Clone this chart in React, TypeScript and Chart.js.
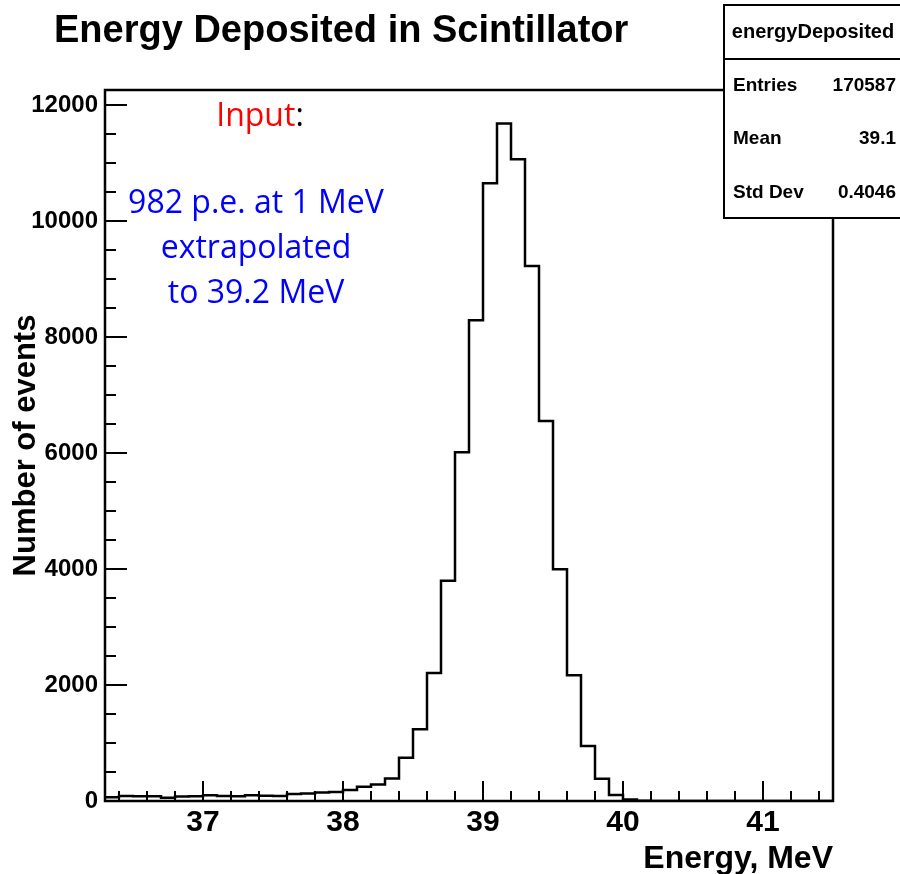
import React, { useEffect, useRef } from 'react';
import { Chart, registerables } from 'chart.js';

Chart.register(...registerables);

// ---- data ----
const binEdges = [
  36.3, 36.4, 36.5, 36.6, 36.7, 36.8, 36.9, 37.0, 37.1, 37.2,
  37.3, 37.4, 37.5, 37.6, 37.7, 37.8, 37.9, 38.0, 38.1, 38.2,
  38.3, 38.4, 38.5, 38.6, 38.7, 38.8, 38.9, 39.0, 39.1, 39.2,
  39.3, 39.4, 39.5, 39.6, 39.7, 39.8, 39.9, 40.0, 40.1, 40.2,
  40.3, 40.4, 40.5, 40.6, 40.7, 40.8, 40.9, 41.0, 41.1, 41.2,
  41.3, 41.4, 41.5,
];
const binCounts = [
  64, 86, 80, 80, 55, 78, 80, 98, 86, 80,
  100, 90, 88, 120, 128, 145, 155, 190, 247, 285,
  390, 745, 1236, 2207, 3798, 6012, 8288, 10650, 11684, 11064,
  9224, 6552, 3995, 2167, 948, 384, 103, 25, 5, 0,
  0, 0, 0, 0, 0, 0, 0, 0, 0, 0,
  0, 0,
];
const xMajorTicks = [37, 38, 39, 40, 41];
const xMinorTicks = [
  36.4, 36.6, 36.8, 37.2, 37.4, 37.6, 37.8, 38.2, 38.4, 38.6, 38.8,
  39.2, 39.4, 39.6, 39.8, 40.2, 40.4, 40.6, 40.8, 41.2, 41.4,
];
const yMajorTicks = [0, 2000, 4000, 6000, 8000, 10000, 12000];
const yMinorTicks = [
  500, 1000, 1500, 2500, 3000, 3500, 4500, 5000, 5500, 6500, 7000, 7500,
  8500, 9000, 9500, 10500, 11000, 11500,
];
const xRange = [36.3, 41.5];
const yRange = [0, 12260];

const chartTitle = 'Energy Deposited in Scintillator';
const xAxisTitle = 'Energy, MeV';
const yAxisTitle = 'Number of events';
const statsName = 'energyDeposited';
const statsLabels = ['Entries', 'Mean', 'Std Dev'];
const statsValues = ['170587', '39.1', '0.4046'];
const noteHead = 'Input';
const noteLines = ['982 p.e. at 1 MeV', 'extrapolated', 'to 39.2 MeV'];

const SANS = '"Liberation Sans", Arial, Helvetica, sans-serif';
const NOTE = '"Open Sans", "Noto Sans", sans-serif';

const decorPlugin = {
  id: 'rootDecor',
  afterDraw(chart: any) {
    const ctx = chart.ctx as CanvasRenderingContext2D;
    const xs = chart.scales.x;
    const ys = chart.scales.y;
    const { left, right, top, bottom } = chart.chartArea;
    ctx.save();
    ctx.strokeStyle = '#000';
    ctx.lineWidth = 2;
    ctx.lineCap = 'butt';
    // ticks
    ctx.beginPath();
    xMajorTicks.forEach((v) => {
      const p = Math.round(xs.getPixelForValue(v));
      ctx.moveTo(p, bottom);
      ctx.lineTo(p, bottom - 20);
    });
    xMinorTicks.forEach((v) => {
      const p = Math.round(xs.getPixelForValue(v));
      ctx.moveTo(p, bottom);
      ctx.lineTo(p, bottom - 10);
    });
    yMajorTicks.forEach((v) => {
      const p = Math.round(ys.getPixelForValue(v));
      ctx.moveTo(left, p);
      ctx.lineTo(left + 22, p);
    });
    yMinorTicks.forEach((v) => {
      const p = Math.round(ys.getPixelForValue(v));
      ctx.moveTo(left, p);
      ctx.lineTo(left + 11, p);
    });
    ctx.stroke();
    // frame
    ctx.lineWidth = 2.5;
    ctx.strokeRect(left, top, right - left, bottom - top);

    // title
    ctx.fillStyle = '#000';
    ctx.font = `bold 38px ${SANS}`;
    ctx.textAlign = 'left';
    ctx.textBaseline = 'alphabetic';
    ctx.fillText(chartTitle, 54, 42);

    // stats box
    const bx = 724, by = 5, bw = 180, bh = 213;
    ctx.fillStyle = '#fff';
    ctx.fillRect(bx, by, bw, bh);
    ctx.lineWidth = 2;
    ctx.strokeRect(bx, by, bw, bh);
    ctx.beginPath();
    ctx.moveTo(bx, 59);
    ctx.lineTo(bx + bw, 59);
    ctx.stroke();
    ctx.fillStyle = '#000';
    ctx.font = `bold 20px ${SANS}`;
    ctx.textAlign = 'center';
    ctx.textBaseline = 'middle';
    ctx.fillText(statsName, 813, 32);
    ctx.font = `bold 19px ${SANS}`;
    const rowsY = [86, 139, 193];
    statsLabels.forEach((lab, i) => {
      ctx.textAlign = 'left';
      ctx.fillText(lab, 733, rowsY[i]);
      ctx.textAlign = 'right';
      ctx.fillText(statsValues[i], 896, rowsY[i]);
    });

    // annotation
    ctx.font = `32px ${NOTE}`;
    ctx.textBaseline = 'alphabetic';
    ctx.textAlign = 'left';
    const wHead = ctx.measureText(noteHead).width;
    const wColon = ctx.measureText(':').width;
    const sx = 260 - (wHead + wColon) / 2;
    ctx.fillStyle = '#ff0000';
    ctx.fillText(noteHead, sx, 126);
    ctx.fillStyle = '#000';
    ctx.fillText(':', sx + wHead, 126);
    ctx.fillStyle = '#0000ff';
    ctx.textAlign = 'center';
    const base = [213, 258, 303];
    noteLines.forEach((t, i) => ctx.fillText(t, 256, base[i]));
    ctx.restore();
  },
};

export default function App() {
  const ref = useRef<HTMLCanvasElement | null>(null);
  useEffect(() => {
    document.body.style.margin = '0';
    const canvas = ref.current;
    if (!canvas) return;
    const points = binEdges.map((e, i) => ({
      x: e,
      y: binCounts[Math.min(i, binCounts.length - 1)],
    }));
    const chart = new Chart(canvas, {
      type: 'line',
      data: {
        datasets: [
          {
            data: points,
            stepped: 'before',
            borderColor: '#000',
            borderWidth: 2.5,
            pointRadius: 0,
            fill: false,
          } as any,
        ],
      },
      options: {
        animation: false,
        responsive: false,
        devicePixelRatio: 1,
        layout: { padding: { top: 90, right: 67, left: 0, bottom: 0 } },
        plugins: {
          legend: { display: false },
          tooltip: { enabled: false },
          title: { display: false },
        },
        scales: {
          x: {
            type: 'linear',
            min: xRange[0],
            max: xRange[1],
            grid: { display: false, drawTicks: false },
            border: { display: false },
            afterBuildTicks: (s: any) => {
              s.ticks = xMajorTicks.map((v) => ({ value: v }));
            },
            afterFit: (s: any) => {
              s.height = 73;
            },
            ticks: {
              color: '#000',
              font: { family: SANS, size: 30, weight: 'bold' },
              padding: 4,
              maxRotation: 0,
              autoSkip: false,
              callback: (v: any) => String(v),
            },
            title: {
              display: true,
              text: xAxisTitle,
              align: 'end',
              color: '#000',
              font: { family: SANS, size: 32, weight: 'bold', lineHeight: 1.0 },
              padding: { top: 0, bottom: -1 },
            },
          },
          y: {
            type: 'linear',
            min: yRange[0],
            max: yRange[1],
            grid: { display: false, drawTicks: false },
            border: { display: false },
            afterBuildTicks: (s: any) => {
              s.ticks = yMajorTicks.map((v) => ({ value: v }));
            },
            afterFit: (s: any) => {
              s.width = 105;
            },
            ticks: {
              color: '#000',
              font: { family: SANS, size: 24, weight: 'bold' },
              padding: 7,
              autoSkip: false,
              callback: (v: any) => String(v),
            },
            title: {
              display: true,
              text: yAxisTitle,
              color: '#000',
              font: { family: SANS, size: 31, weight: 'bold', lineHeight: 1.2 },
              padding: { top: 8, bottom: 0 },
            },
          },
        },
      },
      plugins: [decorPlugin],
    });
    return () => chart.destroy();
  }, []);
  return (
    <div style={{ position: 'absolute', left: 0, top: 0, width: 900, height: 874, background: '#fff' }}>
      <canvas ref={ref} width={900} height={874} style={{ display: 'block' }} />
    </div>
  );
}
